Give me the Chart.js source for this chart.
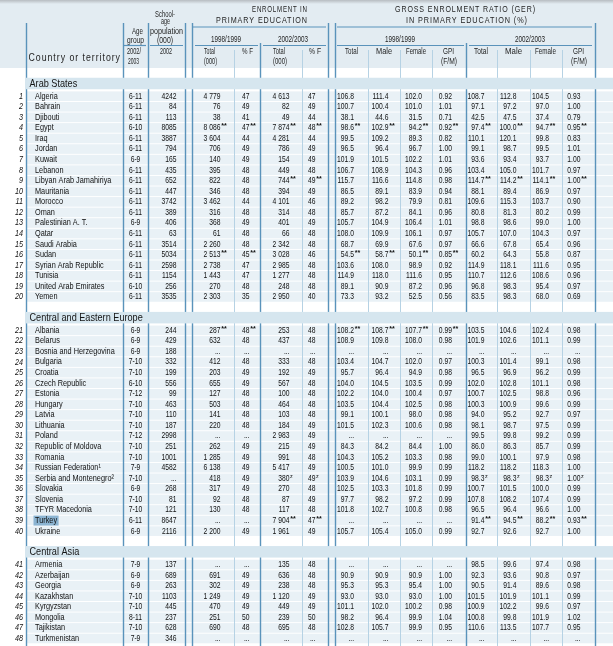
<!DOCTYPE html>
<html><head><meta charset="utf-8">
<script src="https://cdn.jsdelivr.net/npm/chart.js@4"></script>
<style>html,body{margin:0;padding:0;background:#fff;}canvas{display:block;}</style>
</head><body>
<canvas id="c" width="613" height="646"></canvas>
<script>
// ---------------- DATA ----------------
const regions = ['Arab States', 'Central and Eastern Europe', 'Central Asia'];
const regionRowCounts = [20, 20, 8];

const countries = ['Algeria','Bahrain','Djibouti','Egypt','Iraq','Jordan','Kuwait','Lebanon','Libyan Arab Jamahiriya','Mauritania','Morocco','Oman','Palestinian A. T.','Qatar','Saudi Arabia','Sudan','Syrian Arab Republic','Tunisia','United Arab Emirates','Yemen',
 'Albania','Belarus','Bosnia and Herzegovina','Bulgaria','Croatia','Czech Republic','Estonia','Hungary','Latvia','Lithuania','Poland','Republic of Moldova','Romania','Russian Federation¹','Serbia and Montenegro²','Slovakia','Slovenia','TFYR Macedonia','Turkey','Ukraine',
 'Armenia','Azerbaijan','Georgia','Kazakhstan','Kyrgyzstan','Mongolia','Tajikistan','Turkmenistan'];

const ageGroup = ['6-11','6-11','6-11','6-10','6-11','6-11','6-9','6-11','6-11','6-11','6-11','6-11','6-9','6-11','6-11','6-11','6-11','6-11','6-10','6-11',
 '6-9','6-9','6-9','7-10','7-10','6-10','7-12','7-10','7-10','7-10','7-12','7-10','7-10','7-9','7-10','6-9','7-10','7-10','6-11','6-9',
 '7-9','6-9','6-9','7-10','7-10','8-11','7-10','7-9'];

const schoolAgePop = ['4242','84','113','8085','3887','794','165','435','652','447','3742','389','406','63','3514','5034','2598','1154','256','3535',
 '244','429','188','332','199','556','99','463','110','187','2998','251','1001','4582','...','268','81','121','8647','2116',
 '137','689','263','1103','445','237','628','346'];

const enrol1998Total = ['4 779','76','38','8 086**','3 604','706','140','395','822','346','3 462','316','368','61','2 260','2 513**','2 738','1 443','270','2 303',
 '287**','632','...','412','203','655','127','503','141','220','...','262','1 285','6 138','418','317','92','130','...','2 200',
 '...','691','302','1 249','470','251','690','...'];
const enrol1998PctF = ['47','49','41','47**','44','49','49','48','48','48','44','48','49','48','48','45**','47','47','48','35',
 '48**','48','...','48','49','49','48','48','48','48','...','49','49','49','49','49','48','48','...','49',
 '...','49','49','49','49','50','48','...'];
const enrol2002Total = ['4 613','82','49','7 874**','4 281','786','154','449','744**','394','4 101','314','401','66','2 342','3 028','2 985','1 277','248','2 950',
 '253','437','...','333','192','567','100','464','103','184','2 983','215','991','5 417','380z','270','87','117','7 904**','1 961',
 '135','636','238','1 120','449','239','695','...'];
const enrol2002PctF = ['47','49','44','48**','44','49','49','48','49**','49','46','48','49','48','48','46','48','48','48','40',
 '48','48','...','48','49','48','48','48','48','49','49','49','48','49','49z','48','49','48','47**','49',
 '48','48','48','49','49','50','48','...'];

const ger1998Total = ['106.8','100.7','38.1','98.6**','99.5','96.5','101.9','106.7','115.7','86.5','89.2','85.7','105.7','108.0','68.7','54.5**','103.6','114.9','89.1','73.3',
 '108.2**','108.9','...','103.4','95.7','104.0','102.2','103.5','99.1','101.5','...','84.3','104.3','100.5','103.9','102.5','97.7','101.8','...','105.7',
 '...','90.9','95.3','93.0','101.1','98.2','102.8','...'];
const ger1998Male = ['111.4','100.4','44.6','102.9**','109.2','96.4','101.5','108.9','116.6','89.1','98.2','87.2','104.9','109.9','69.9','58.7**','108.0','118.0','90.9','93.2',
 '108.7**','109.8','...','104.7','96.4','104.5','104.0','104.4','100.1','102.3','...','84.2','105.2','101.0','104.6','103.3','98.2','102.7','...','105.4',
 '...','90.9','95.3','93.0','102.0','96.4','105.7','...'];
const ger1998Female = ['102.0','101.0','31.5','94.2**','89.3','96.7','102.2','104.3','114.8','83.9','79.9','84.1','106.4','106.1','67.6','50.1**','98.9','111.6','87.2','52.5',
 '107.7**','108.0','...','102.0','94.9','103.5','100.4','102.5','98.0','100.6','...','84.4','103.3','99.9','103.1','101.8','97.2','100.8','...','105.0',
 '...','90.9','95.4','93.0','100.2','99.9','99.9','...'];
const ger1998GPI = ['0.92','1.01','0.71','0.92**','0.82','1.00','1.01','0.96','0.98','0.94','0.81','0.96','1.01','0.97','0.97','0.85**','0.92','0.95','0.96','0.56',
 '0.99**','0.98','...','0.97','0.98','0.99','0.97','0.98','0.98','0.98','...','1.00','0.98','0.99','0.99','0.99','0.99','0.98','...','0.99',
 '...','1.00','1.00','1.00','0.98','1.04','0.95','...'];

const ger2002Total = ['108.7','97.1','42.5','97.4**','110.1','99.1','93.6','103.4','114.7**','88.1','109.6','80.8','98.8','105.7','66.6','60.2','114.9','110.7','96.8','83.5',
 '103.5','101.9','...','100.3','96.5','102.0','100.7','100.3','94.0','98.1','99.5','86.0','99.0','118.2','98.3z','100.7','107.8','96.5','91.4**','92.7',
 '98.5','92.3','90.5','101.5','100.9','100.8','110.6','...'];
const ger2002Male = ['112.8','97.2','47.5','100.0**','120.1','98.7','93.4','105.0','114.2**','89.4','115.3','81.3','98.6','107.0','67.8','64.3','118.1','112.6','98.3','98.3',
 '104.6','102.6','...','101.4','96.9','102.8','102.5','100.9','95.2','98.7','99.8','86.3','100.1','118.2','98.3z','101.5','108.2','96.4','94.5**','92.6',
 '99.6','93.6','91.4','101.9','102.2','99.8','113.5','...'];
const ger2002Female = ['104.5','97.0','37.4','94.7**','99.8','99.5','93.7','101.7','114.1**','86.9','103.7','80.2','99.0','104.3','65.4','55.8','111.6','108.6','95.4','68.0',
 '102.4','101.1','...','99.1','96.2','101.1','98.8','99.6','92.7','97.5','99.2','85.7','97.9','118.3','98.3z','100.0','107.4','96.6','88.2**','92.7',
 '97.4','90.8','89.6','101.1','99.6','101.9','107.7','...'];
const ger2002GPI = ['0.93','1.00','0.79','0.95**','0.83','1.01','1.00','0.97','1.00**','0.97','0.90','0.99','1.00','0.97','0.96','0.87','0.95','0.96','0.97','0.69',
 '0.98','0.99','...','0.98','0.99','0.98','0.96','0.99','0.97','0.99','0.99','0.99','0.98','1.00','1.00z','0.99','0.99','1.00','0.93**','1.00',
 '0.98','0.97','0.98','0.99','0.97','1.02','0.95','...'];

const highlightedCountry = 'Turkey';

// ---------------- LAYOUT ----------------
const W = 613, H = 646;
const FONT = '"Liberation Sans", Arial, Helvetica, sans-serif';
const FIRST_ROW_PX = 96, ROW_PITCH = 10.567;
const GROUP_GAP = 2.16, HEADER_OFFSET = 1.16;
const C_HEAVY = '#5a93bb', C_LIGHT = '#b6d2e4', C_HEAD_BG = '#e3ecf2', C_ROW = '#e9f1f6', C_BAND = '#d6e6ef', C_TEXT = '#111111';
const BODY_SIZE = 9.5;

const rowNumbers = countries.map((_, i) => String(i + 1));

const columns = [
  { values: rowNumbers, x: 23, align: 'right', kind: 'rowno' },
  { values: countries, x: 35, align: 'left', kind: 'name' },
  { values: ageGroup, x: 135.5, align: 'center' },
  { values: schoolAgePop, x: 176.5, align: 'right' },
  { values: enrol1998Total, x: 220.5, align: 'right' },
  { values: enrol1998PctF, x: 249.5, align: 'right' },
  { values: enrol2002Total, x: 289.5, align: 'right' },
  { values: enrol2002PctF, x: 315.5, align: 'right' },
  { values: ger1998Total, x: 354, align: 'right' },
  { values: ger1998Male, x: 388.5, align: 'right' },
  { values: ger1998Female, x: 422, align: 'right' },
  { values: ger1998GPI, x: 452, align: 'right' },
  { values: ger2002Total, x: 484.5, align: 'right' },
  { values: ger2002Male, x: 516.5, align: 'right' },
  { values: ger2002Female, x: 549, align: 'right' },
  { values: ger2002GPI, x: 580.5, align: 'right' }
];

function regionOf(i) { let acc = 0; for (let g = 0; g < regionRowCounts.length; g++) { acc += regionRowCounts[g]; if (i < acc) return g; } return regionRowCounts.length - 1; }
function rowSlot(i) { return i + regionOf(i) * GROUP_GAP; }
function firstRowOf(g) { let a = 0; for (let k = 0; k < g; k++) a += regionRowCounts[k]; return a; }
function headerSlot(g) { return rowSlot(firstRowOf(g)) - HEADER_OFFSET; }

function setFont(ctx, size, italic, weight) {
  ctx.font = (italic ? 'italic ' : '') + (weight || 'normal') + ' ' + size + 'px ' + FONT;
}
function drawText(ctx, str, x, y, o) {
  ctx.save();
  setFont(ctx, o.size, o.italic, o.weight);
  ctx.fillStyle = o.color || C_TEXT;
  ctx.textBaseline = 'middle';
  ctx.textAlign = o.align || 'left';
  ctx.translate(x, y);
  ctx.scale(o.sx || 1, 1);
  ctx.fillText(str, 0, 0);
  ctx.restore();
}
function fitText(ctx, str, left, right, y, size, ls) {
  ctx.save();
  setFont(ctx, size);
  try { ctx.letterSpacing = (ls || 0) + 'px'; } catch (e) {}
  const w = ctx.measureText(str).width - (ls || 0);
  ctx.fillStyle = '#1e1e1e';
  ctx.textBaseline = 'middle';
  ctx.textAlign = 'left';
  ctx.translate(left, y);
  ctx.scale((right - left) / w, 1);
  ctx.fillText(str, 0, 0);
  ctx.restore();
}

const headerLabels = [
  ['ENROLMENT IN', 252, 307, 9.5, 9.5, 1.2], ['PRIMARY EDUCATION', 216, 307, 20.5, 9.5, 1.2],
  ['GROSS ENROLMENT RATIO (GER)', 395, 535, 9.5, 9.5, 1.2], ['IN PRIMARY EDUCATION (%)', 406, 527, 20.5, 9.5, 1.2],
  ['Country or territory', 28.5, 120, 58.5, 10, 1.1],
  ['School-', 155, 175, 15, 8.5], ['age', 161, 170, 22, 8.5], ['population', 150, 183, 31.5, 8.5], ['(000)', 157, 173, 40.5, 8.5],
  ['Age', 132, 143, 31.5, 8.5], ['group', 127, 144, 40.5, 8.5],
  ['2002/', 127, 141, 52, 8.5], ['2003', 128, 139, 61.5, 8.5], ['2002', 160, 172, 52, 8.5],
  ['1998/1999', 211, 241, 39.5, 8.5], ['2002/2003', 278, 308, 39.5, 8.5],
  ['Total', 204, 215, 52, 8.5], ['(000)', 204, 217, 62, 8.5], ['% F', 242, 253, 52, 8.5],
  ['Total', 273, 285, 52, 8.5], ['(000)', 273, 287, 62, 8.5], ['% F', 309, 321, 52, 8.5],
  ['1998/1999', 385, 415, 39.5, 8.5], ['2002/2003', 515, 545, 39.5, 8.5],
  ['Total', 345, 358, 52, 8.5], ['Male', 376, 392, 52, 8.5], ['Female', 406, 426, 52, 8.5], ['GPI', 443, 454, 52, 8.5], ['(F/M)', 441, 457, 62, 8.5],
  ['Total', 474, 488, 52, 8.5], ['Male', 505, 522, 52, 8.5], ['Female', 535, 556, 52, 8.5], ['GPI', 573, 584, 52, 8.5], ['(F/M)', 571, 587, 62, 8.5]
];
const vLines = [
  [26, 23, 'h'], [123, 23, 'h'], [148, 23, 'h'], [185, 23, 'h'], [192, 23, 'h'], [328, 23, 'h'], [335, 23, 'h'], [595, 23, 'h'],
  [260, 43, 'h'], [466, 43, 'h'],
  [234, 50, 'l'], [302, 50, 'l'], [368, 50, 'l'], [400, 50, 'l'], [432, 50, 'l'], [497, 50, 'l'], [530, 50, 'l'], [562, 50, 'l']
];
const hLines = [[192, 326, 27], [337, 592, 27], [123, 146, 45.5], [150, 183, 45.5], [195, 258, 45.5], [263, 326, 45.5], [337, 464, 45.5], [469, 592, 45.5]];

const tablePlugin = {
  id: 'tablePlugin',
  beforeDatasetsDraw(chart) {
    const ctx = chart.ctx, xs = chart.scales.x, ys = chart.scales.y;
    const px = v => xs.getPixelForValue(v), py = v => ys.getPixelForValue(v);
    ctx.save();
    ctx.fillStyle = '#ffffff'; ctx.fillRect(0, 0, W, H);
    ctx.fillStyle = C_HEAD_BG; ctx.fillRect(0, 0, W, 68);
    const g = ctx.createLinearGradient(0, 0, 0, 4);
    g.addColorStop(0, '#b7bcc1'); g.addColorStop(1, C_HEAD_BG);
    ctx.fillStyle = g; ctx.fillRect(0, 0, W, 4);
    ctx.fillStyle = C_ROW;
    countries.forEach((_, i) => { const y = py(rowSlot(i)); ctx.fillRect(px(26), y - 4.6, px(W) - px(26), 9.6); });
    vLines.forEach(([x, y0, k]) => {
      ctx.strokeStyle = k === 'h' ? C_HEAVY : C_LIGHT;
      ctx.lineWidth = k === 'h' ? 1.4 : 1;
      ctx.beginPath(); ctx.moveTo(px(x) + 0.5, y0); ctx.lineTo(px(x) + 0.5, H); ctx.stroke();
    });
    ctx.strokeStyle = C_HEAVY; ctx.lineWidth = 1.2;
    hLines.forEach(([a, b, y]) => { ctx.beginPath(); ctx.moveTo(px(a), y); ctx.lineTo(px(b), y); ctx.stroke(); });
    regions.forEach((name, gi) => {
      const cy = py(headerSlot(gi));
      const top = Math.max(cy - 6, 77);
      ctx.fillStyle = C_BAND; ctx.fillRect(px(26) - 1, top, px(W) - px(26) + 1, cy + 5.5 - top);
      drawText(ctx, name, px(29.5), cy + 0.3, { size: 10.5, sx: 0.87, color: '#151515' });
    });
    const hi = countries.indexOf(highlightedCountry);
    if (hi >= 0) {
      setFont(ctx, BODY_SIZE);
      const w = ctx.measureText(highlightedCountry).width * 0.77;
      const y = py(rowSlot(hi));
      ctx.fillStyle = '#8bb4d2'; ctx.fillRect(px(35) - 1.5, y - 4.8, w + 3, 10);
    }
    headerLabels.forEach(([s, a, b, y, size, ls]) => fitText(ctx, s, px(a), px(b), y, size, ls));
    ctx.restore();
  },
  afterDatasetsDraw(chart) {
    const ctx = chart.ctx;
    chart.data.datasets.forEach((ds, di) => {
      const col = columns[di];
      const meta = chart.getDatasetMeta(di);
      meta.data.forEach((el, i) => {
        const raw = col.values[i];
        if (col.kind === 'rowno') { drawText(ctx, raw, el.x, el.y, { size: BODY_SIZE, italic: true, sx: 0.76, align: 'right' }); return; }
        if (col.kind === 'name') { drawText(ctx, raw, el.x, el.y, { size: BODY_SIZE, sx: 0.77, align: 'left' }); return; }
        const m = raw.match(/^(.*?)(\*\*|z)?$/);
        const val = m[1], mark = m[2];
        drawText(ctx, val, el.x, el.y, { size: BODY_SIZE, sx: 0.71, align: col.align });
        if (mark === '**') drawText(ctx, '**', el.x + 0.8, el.y - 1.5, { size: 7.5, weight: 'bold', sx: 0.95 });
        if (mark === 'z') drawText(ctx, 'z', el.x + 0.6, el.y - 2.2, { size: 6, sx: 0.9 });
      });
    });
  }
};

new Chart(document.getElementById('c').getContext('2d'), {
  type: 'scatter',
  data: {
    datasets: columns.map((col, ci) => ({
      label: 'col' + ci,
      data: col.values.map((v, i) => ({ x: col.x, y: rowSlot(i) })),
      pointRadius: 0, pointHoverRadius: 0, borderWidth: 0
    }))
  },
  options: {
    responsive: false, animation: false, events: [],
    layout: { padding: 0 },
    plugins: { legend: { display: false }, tooltip: { enabled: false }, title: { display: false } },
    scales: {
      x: { type: 'linear', display: false, min: 0, max: W },
      y: { type: 'linear', display: false, reverse: true, min: -FIRST_ROW_PX / ROW_PITCH, max: (H - FIRST_ROW_PX) / ROW_PITCH }
    }
  },
  plugins: [tablePlugin]
});
</script>
</body></html>
